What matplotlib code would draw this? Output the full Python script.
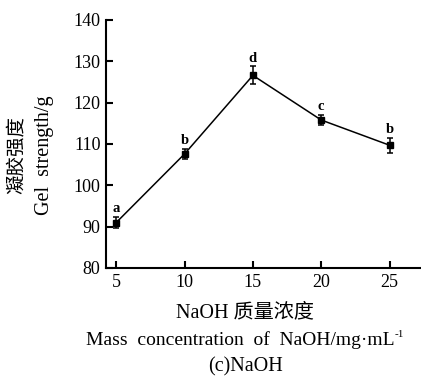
import matplotlib.pyplot as plt

plt.rcParams['font.family'] = ['Liberation Serif', 'Noto Sans CJK SC']

# NaOH mass concentration (mg/mL) and gel strength (g)
naoh = [5, 10, 15, 20, 25]
gel_strength = [91.0, 107.6, 126.6, 115.8, 109.7]
gel_err = [1.4, 1.2, 2.2, 1.2, 1.8]
sig_letters = ['a', 'b', 'd', 'c', 'b']

fig = plt.figure(figsize=(4.21, 3.77), dpi=100)
ax = fig.add_axes([106 / 421, 1 - 268 / 377, 315 / 421, 248 / 377])

ax.errorbar(naoh, gel_strength, yerr=gel_err, color='black', lw=1.1,
            marker='s', ms=4, capsize=2.5, elinewidth=1.1, capthick=1.1)

for x, y, e, s in zip(naoh, gel_strength, gel_err, sig_letters):
    ax.text(x, y + e + 0.4, s, ha='center', va='bottom', fontsize=10.5,
            fontweight='bold')

ax.set_xlim(4.25, 27.3)
ax.set_ylim(80, 140)
ax.set_xticks(naoh)
ax.set_yticks(range(80, 141, 10))
ax.spines['top'].set_visible(False)
ax.spines['right'].set_visible(False)
ax.spines['left'].set_linewidth(1.5)
ax.spines['bottom'].set_linewidth(1.5)
ax.tick_params(direction='in', length=5, width=1.5, labelsize=13, pad=4)

# y axis title, two columns
fig.text(17 / 421, 1 - 155 / 377, '凝胶强度', rotation=90, ha='center',
         va='center', fontsize=14)
fig.text(45 / 421, 1 - 155 / 377, 'Gel  strength/g', rotation=90, ha='center',
         va='center', fontsize=14.5)

fig.text(245 / 421, 1 - 313 / 377, 'NaOH 质量浓度', ha='center', va='center',
         fontsize=14.5)
t = fig.text(240 / 421, 1 - 340 / 377, 'Mass  concentration  of  NaOH/mg·mL',
             ha='center', va='center', fontsize=14)
# small superscript after mL
ax.annotate('-1', xy=(1.0, 1.0), xycoords=t, xytext=(0.5, 1),
            textcoords='offset points', ha='left', va='top', fontsize=8)
fig.text(245 / 421, 1 - 367 / 377, '(c)NaOH', ha='center', va='center',
         fontsize=14.5)

fig.savefig('out.png', dpi=100)
